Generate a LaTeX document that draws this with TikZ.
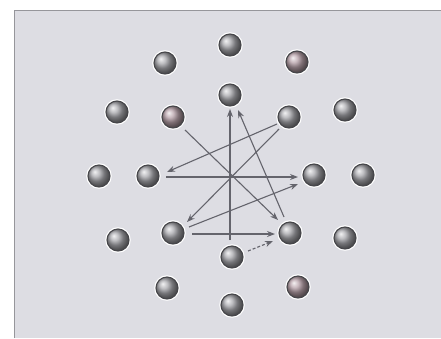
\documentclass[tikz,border=0pt]{standalone}
\usetikzlibrary{arrows.meta}
\definecolor{bgc}{RGB}{221,221,227}
\definecolor{framec}{RGB}{150,150,155}
\definecolor{arrc}{RGB}{100,100,108}
\definecolor{edgec}{RGB}{70,70,74}
\definecolor{ballc}{RGB}{168,168,173}
\definecolor{pinkc}{RGB}{182,160,168}
\begin{document}
\begin{tikzpicture}[x=1pt,y=-1pt,
  ball/.style={circle,minimum size=22pt,inner sep=0pt,draw=edgec,line width=1.1pt,ball color=ballc,
    preaction={draw=white,line width=3.5pt}},
  pinkball/.style={ball,ball color=pinkc},
  link/.style={draw=arrc,line width=1.1pt,-{Stealth[length=8pt,width=6pt]}},
  dlink/.style={link,dashed}]
\useasboundingbox (0,0) rectangle (441,338);
\fill[white] (0,0) rectangle (441,338);
\fill[bgc] (14,10) rectangle (441,338);
\draw[framec,line width=1pt] (14,338) -- (14,10) -- (441,10);
% outer ring
\node[ball] (o1) at (230,45) {};
\node[ball] (o2) at (165,63) {};
\node[pinkball] (o3) at (297,62) {};
\node[ball] (o4) at (117,112) {};
\node[ball] (o5) at (345,110) {};
\node[ball] (o6) at (99,176) {};
\node[ball] (o7) at (363,175) {};
\node[ball] (o8) at (118,240) {};
\node[ball] (o9) at (345,238) {};
\node[ball] (o10) at (167,288) {};
\node[pinkball] (o11) at (298,287) {};
\node[ball] (o12) at (232,305) {};
% inner ring
\node[ball] (it) at (230,95) {};
\node[pinkball] (itl) at (173,117) {};
\node[ball] (itr) at (289,117) {};
\node[ball] (il) at (148,176) {};
\node[ball] (ir) at (314,175) {};
\node[ball] (ibl) at (173,233) {};
\node[ball] (ibr) at (290,233) {};
\node[ball] (ib) at (232,257) {};
% arrows
\coordinate (ibs) at (230,240);
\coordinate (ite) at (230,109);
\draw[link] (ibs) -- (ite);
\coordinate (itls) at (185,130);
\coordinate (ibre) at (278,220);
\draw[link] (itls) -- (ibre);
\coordinate (ibrs) at (284,217);
\coordinate (ite2) at (238,110);
\draw[link] (ibrs) -- (ite2);
\coordinate (itrs) at (277,124);
\coordinate (ile) at (167,172);
\draw[link] (itrs) -- (ile);
\coordinate (itrs2) at (279,129);
\coordinate (ible) at (187,222);
\draw[link] (itrs2) -- (ible);
\coordinate (ils) at (166,177);
\coordinate (ire) at (298,177);
\draw[link] (ils) -- (ire);
\coordinate (ibls) at (189,227);
\coordinate (ire2) at (298,184);
\draw[link] (ibls) -- (ire2);
\coordinate (ibls2) at (192,234);
\coordinate (ibre2) at (275,234);
\draw[link] (ibls2) -- (ibre2);
\coordinate (ibs2) at (248,251);
\coordinate (ibre3) at (273,241);
\draw[dlink,dash pattern=on 3pt off 2pt] (ibs2) -- (ibre3);
\end{tikzpicture}
\end{document}
